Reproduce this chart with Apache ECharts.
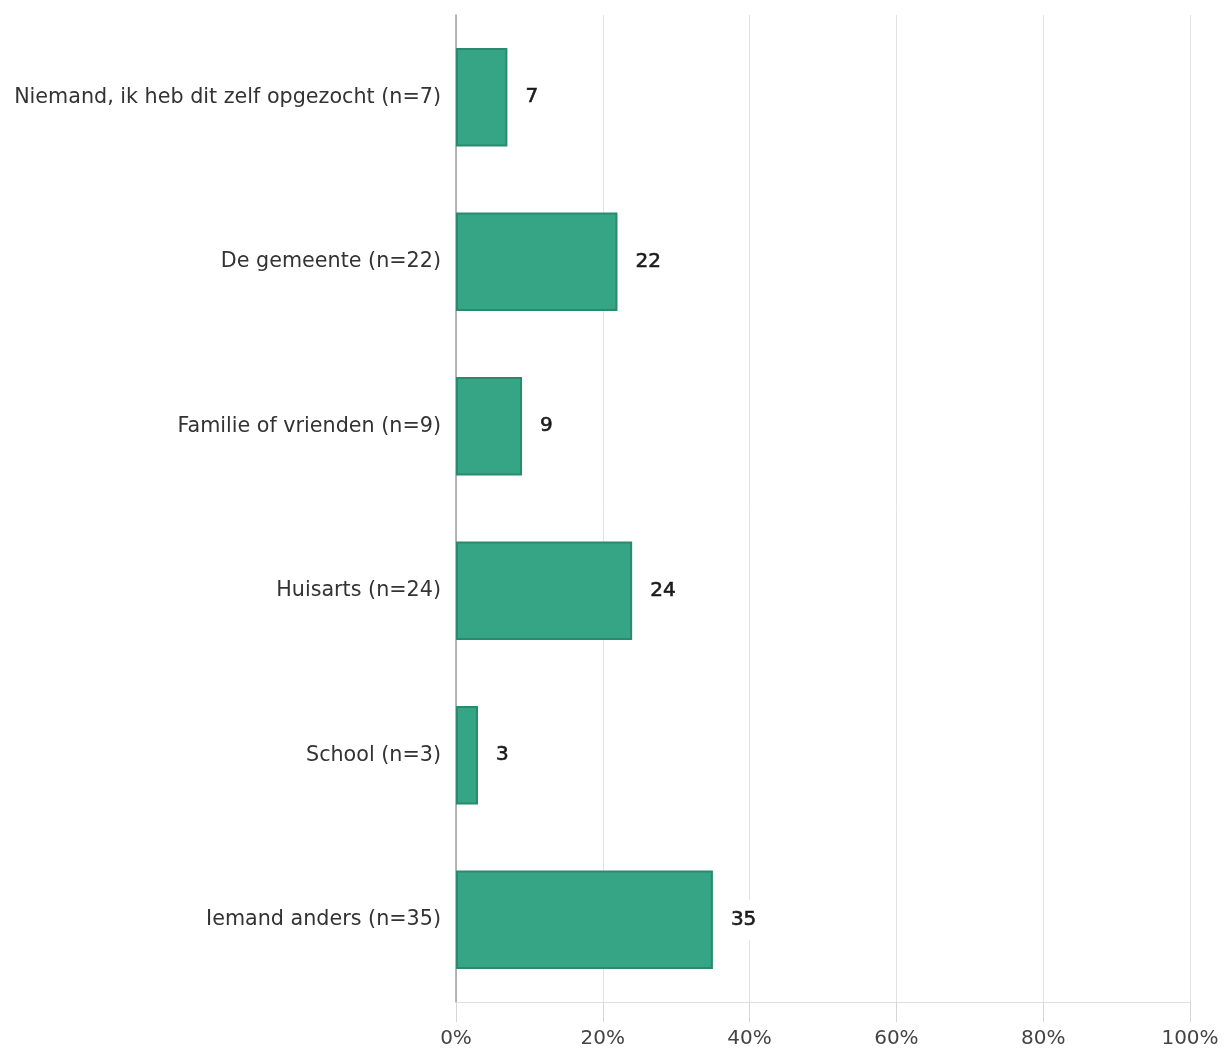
<!DOCTYPE html>
<html><head><meta charset="utf-8">
<script src="https://cdn.jsdelivr.net/npm/echarts@6/dist/echarts.min.js"></script>
<style>html,body{margin:0;padding:0;background:#fff}#c{width:1224px;height:1055px}</style>
</head><body><div id="c"></div>
<script>
const categories = ["Niemand, ik heb dit zelf opgezocht (n=7)","De gemeente (n=22)","Familie of vrienden (n=9)","Huisarts (n=24)","School (n=3)","Iemand anders (n=35)"];
const percentages = [7, 22, 9, 24, 3, 35];
const counts = [7, 22, 9, 24, 3, 35];
const tickValues = [0, 20, 40, 60, 80, 100];

const chart = echarts.init(document.getElementById('c'));
chart.setOption({
  animation: false,
  textStyle: { fontFamily: 'DejaVu Sans, sans-serif' },
  grid: { left: 456, right: 34, top: 15, bottom: 53, containLabel: false },
  xAxis: {
    type: 'value', min: 0, max: 100, interval: 20,
    axisLine: { show: true, onZero: false, lineStyle: { color: '#e0e0e0', width: 1 } },
    axisTick: { show: true, inside: false, length: 20, lineStyle: { color: '#d6d6d6', width: 1, opacity: 1 } },
    splitLine: { show: true, lineStyle: { color: '#e3e3e3', width: 1 } },
    axisLabel: { color: '#444', fontSize: 20, margin: 27, formatter: v => tickValues.includes(v) ? v + '%' : '' }
  },
  yAxis: {
    type: 'category', inverse: true, data: categories,
    axisLine: { show: true, lineStyle: { color: '#a0a0a0', width: 1.5 } },
    axisTick: { show: false },
    axisLabel: { color: '#333', fontSize: 20.7, margin: 15 }
  },
  series: [{
    type: 'bar',
    data: percentages,
    barWidth: '60%',
    itemStyle: { color: '#35a586', borderColor: '#2b8a6d', borderWidth: 2 },
    label: {
      show: true, position: 'right', distance: 16,
      formatter: p => counts[p.dataIndex],
      color: '#1a1a1a', fontSize: 20, fontWeight: 'normal',
      textBorderColor: '#1a1a1a', textBorderWidth: 0.6,
      backgroundColor: '#fff', padding: [10, 2]
    }
  }]
});
</script></body></html>
